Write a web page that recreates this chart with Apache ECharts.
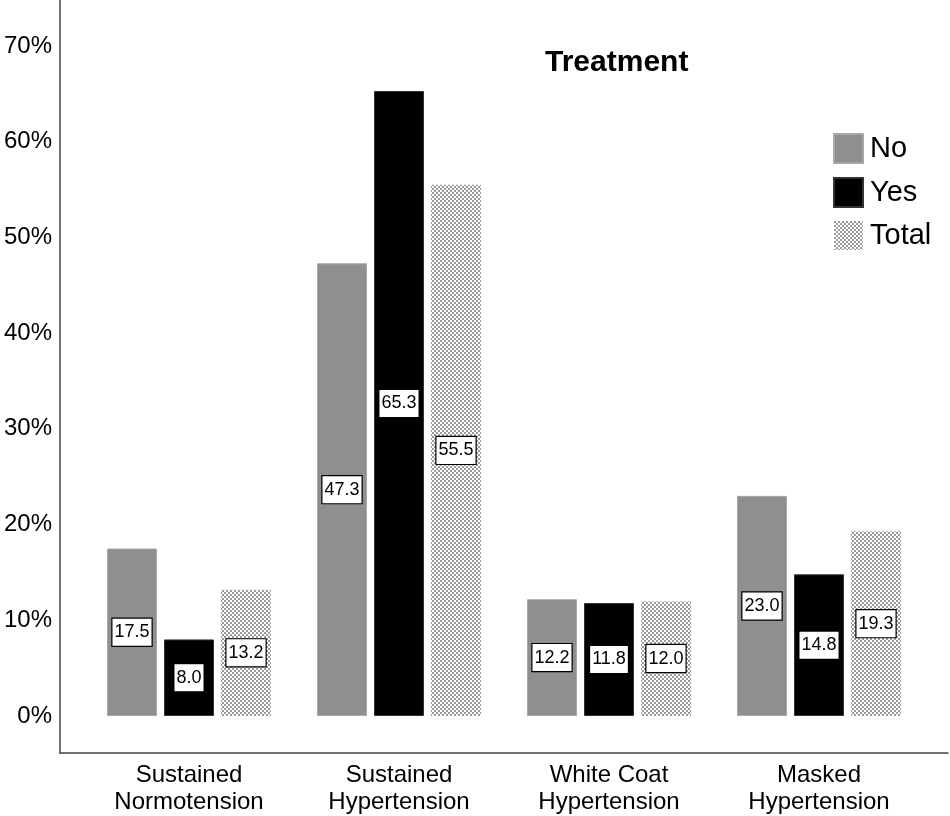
<!DOCTYPE html>
<html>
<head>
<meta charset="utf-8">
<script src="https://cdn.jsdelivr.net/npm/echarts@6/dist/echarts.min.js"></script>
<style>
  html, body { margin:0; padding:0; background:#fff; }
  #plot { width:950px; height:816px; }
</style>
</head>
<body>
<div id="plot"></div>
<script>
const categories = ['Sustained\nNormotension', 'Sustained\nHypertension', 'White Coat\nHypertension', 'Masked\nHypertension'];
const seriesNames = ['No', 'Yes', 'Total'];
const noValues    = [17.5, 47.3, 12.2, 23.0];
const yesValues   = [8.0, 65.3, 11.8, 14.8];
const totalValues = [13.2, 55.5, 12.0, 19.3];
const yTicks = [0, 10, 20, 30, 40, 50, 60, 70];

// dotted fill for the "Total" bars
function dotPattern() {
  const c = document.createElement('canvas');
  c.width = 4; c.height = 4;
  const g = c.getContext('2d');
  g.fillStyle = '#ffffff';
  g.fillRect(0, 0, 4, 4);
  g.fillStyle = '#9a9a9a';
  g.fillRect(0, 0, 2, 2);
  g.fillRect(2, 2, 2, 2);
  return c;
}

const el = document.getElementById('plot');
const chart = echarts.init(el, null, { renderer:'canvas' });
const font = '"Liberation Sans", Arial, sans-serif';

const labelStyle = {
  show: true, position: 'inside',
  formatter: p => p.value.toFixed(1),
  color: '#000', fontFamily: font, fontSize: 18, lineHeight: 20,
  backgroundColor: '#fff', borderColor: '#000', borderWidth: 1.2,
  padding: [4, 2, 3, 2]
};

const fills = {
  No:    { color: '#8f8f8f', borderColor: '#a8a8a8', borderWidth: 1 },
  Yes:   { color: '#000000', borderColor: '#333333', borderWidth: 1 },
  Total: { color: { image: dotPattern(), repeat: 'repeat' }, borderWidth: 0 }
};
const valuesBy = { No: noValues, Yes: yesValues, Total: totalValues };

chart.setOption({
  backgroundColor: '#fff',
  animation: false,
  title: {
    text: 'Treatment', left: 540, top: 43,
    textStyle: { fontFamily: font, fontSize: 30, fontWeight: 'bold', color: '#000' }
  },
  legend: {
    orient: 'vertical', left: 828, top: 128,
    itemWidth: 29, itemHeight: 29, itemGap: 13,
    icon: 'rect',
    data: seriesNames,
    textStyle: { fontFamily: font, fontSize: 29, color: '#000', padding: [0, 0, 0, 2] }
  },
  grid: [
    { left: 84, right: 26, top: 46, bottom: 94 },
    { left: 60, right: 2, top: 0, bottom: 63 }
  ],
  xAxis: [
    { type: 'category', gridIndex: 0, data: categories,
      axisLine: { show: false }, axisTick: { show: false },
      axisLabel: { margin: 46, fontFamily: font, fontSize: 24, lineHeight: 27, color: '#000' } },
    { type: 'value', gridIndex: 1, min: 0, max: 1,
      axisLine: { show: true, lineStyle: { color: '#444', width: 1.5 } },
      axisTick: { show: false }, axisLabel: { show: false }, splitLine: { show: false } }
  ],
  yAxis: [
    { type: 'value', gridIndex: 0, min: 0, max: 70, interval: 10,
      axisLine: { show: false }, axisTick: { show: false }, splitLine: { show: false },
      axisLabel: {
        margin: 32, fontFamily: font, fontSize: 24, color: '#000',
        formatter: v => yTicks.includes(v) ? v + '%' : ''
      } },
    { type: 'value', gridIndex: 1, min: 0, max: 1,
      axisLine: { show: true, lineStyle: { color: '#444', width: 1.5 } },
      axisTick: { show: false }, axisLabel: { show: false }, splitLine: { show: false } }
  ],
  series: seriesNames.map(name => ({
    type: 'bar', name, xAxisIndex: 0, yAxisIndex: 0,
    data: valuesBy[name],
    barWidth: 50, barGap: '14%',
    itemStyle: fills[name],
    label: labelStyle
  }))
});

window.addEventListener('resize', () => chart.resize(), { passive:true });
</script>
</body>
</html>
